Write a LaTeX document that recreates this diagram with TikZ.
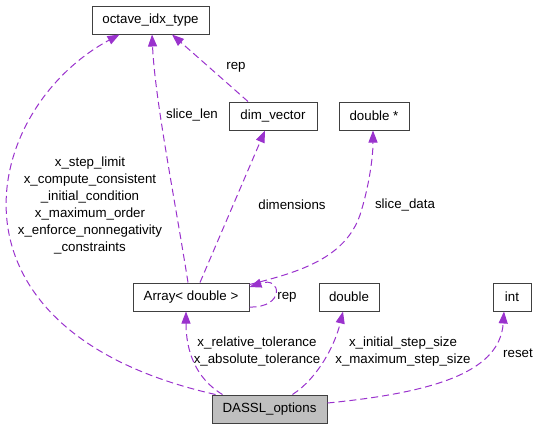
\documentclass[tikz,border=0pt]{standalone}
\usepackage{fontspec}
\setmainfont{Liberation Sans}
\usetikzlibrary{arrows.meta,calc}
\definecolor{edgecol}{HTML}{9A32CD}
\definecolor{boxgray}{HTML}{BFBFBF}

\begin{document}
\begin{tikzpicture}[x=1pt, y=-1pt, >={Triangle[length=12pt,width=9pt]},
  font=\fontsize{13.3}{17}\selectfont,
  cls/.style={draw=black!75, line width=1pt, minimum height=28pt, inner sep=0pt},
  use/.style={->, edgecol, line width=1pt, dash pattern=on 7pt off 4pt},
  lbl/.style={inner sep=0pt, align=center}]

\useasboundingbox (0,0) rectangle (539,429);

% --- Classes ---
\node[cls, minimum width=117pt] (octave) at (150.5,20) {octave\_idx\_type};
\node[cls, minimum width=88pt] (dimvec) at (273,116) {dim\_vector};
\node[cls, minimum width=70pt] (dblptr) at (374,116) {double *};
\node[cls, minimum width=116pt] (array) at (191,297) {Array< double >};
\node[cls, minimum width=60pt] (dbl) at (349,297) {double};
\node[cls, minimum width=38pt] (int) at (512,297) {int};
\node[cls, fill=boxgray, minimum width=115pt] (dassl) at (269.5,409) {DASSL\_options};

% --- DASSL_options members ---
\draw[use] ($(dassl.north west)+(4,0)$) .. controls (-70,330) and (-20,110) .. ($(octave.south west)+(28,0)$);
\node[lbl] (lblopts) at (90,205.5) {x\_step\_limit\\x\_compute\_consistent\\\_initial\_condition\\x\_maximum\_order\\x\_enforce\_nonnegativity\\\_constraints};

\draw[use] ($(dassl.north west)+(11,0)$) .. controls (195,378) and (186,350) .. ($(array.south)+(-5,0)$);
\node[lbl] (lbltol) at (257,351.5) {x\_relative\_tolerance\\x\_absolute\_tolerance};

\draw[use] ($(dassl.north west)+(81,0)$) .. controls (318,378) and (335,345) .. ($(dbl.south)+(-6,0)$);
\node[lbl] (lblstep) at (403,351.5) {x\_initial\_step\_size\\x\_maximum\_step\_size};

\draw[use] ($(dassl.east)+(0,-6)$) .. controls (440,392) and (500,370) .. ($(int.south)+(-8,0)$);
\node[lbl] (lblreset) at (518,353) {reset};

% --- Array< double > members ---
\draw[use] ($(array.north)+(-3,0)$) .. controls (175,200) and (155,100) .. ($(octave.south)+(1.5,0)$);
\node[lbl] (lbllen) at (192,115) {slice\_len};

\draw[use] ($(array.north)+(9,0)$) -- ($(dimvec.south)+(-8,0)$);
\node[lbl] (lbldim) at (292,205) {dimensions};

\draw[use] ($(array.north east)+(0,2)$) .. controls (300,272) and (345,258) .. (360,215)
  .. controls (368,190) and (373,160) .. ($(dblptr.south)+(-1,0)$);
\node[lbl] (lbldata) at (405,205) {slice\_data};

\draw[use] ($(array.east)+(0,10)$) .. controls (285,308) and (282,276) .. ($(array.east)+(0,-10)$);
\node[lbl] (lblrep) at (287,297) {rep};

% --- dim_vector member ---
\draw[use] ($(dimvec.north)+(-25,0)$) -- ($(octave.south)+(21.5,0)$);
\node[lbl] (lblrep2) at (236,67) {rep};

\end{tikzpicture}
\end{document}
